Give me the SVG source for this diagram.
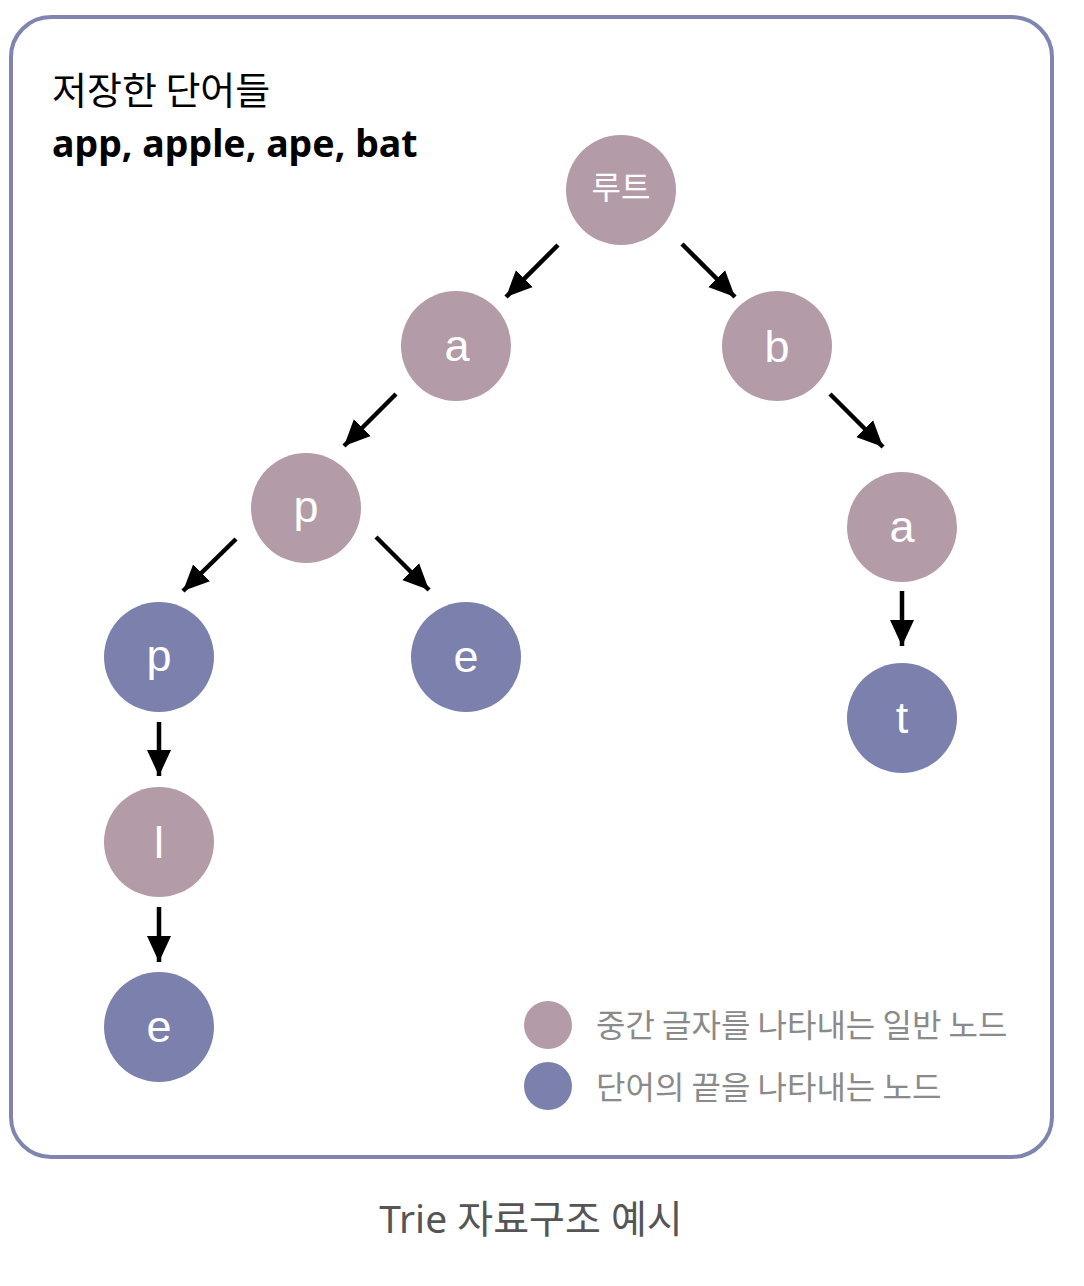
<svg xmlns="http://www.w3.org/2000/svg" width="1084" height="1286" viewBox="0 0 1084 1286">
<style>
.mid{fill:#b39ba8}
.end{fill:#7b80ad}
.lbl{font-family:"Liberation Sans","Noto Sans CJK KR",sans-serif;font-size:45px;fill:#fff;text-anchor:middle}
.edge{stroke:#000;stroke-width:4.5;fill:none;marker-end:url(#ah)}
.leg{font-family:"Noto Sans CJK KR",sans-serif;font-size:32px;fill:#8a8a8a}
</style>
<defs>
<marker id="ah" markerUnits="userSpaceOnUse" markerWidth="28" markerHeight="28" viewBox="0 0 28 28" refX="26" refY="14" orient="auto">
<path d="M0,2 L26,14 L0,26 Z" fill="#000"/>
</marker>
</defs>
<rect x="11" y="17" width="1041" height="1140" rx="40" fill="#fff" stroke="#8085b0" stroke-width="4"/>
<g id="title">
<text x="52" y="104" font-family="Noto Sans CJK KR,sans-serif" font-size="38" fill="#000">저장한 단어들</text>
<text x="52" y="157" font-family="Noto Sans,Noto Sans CJK KR,sans-serif" font-size="37.5" font-weight="bold" fill="#000">app, apple, ape, bat</text>
</g>
<g id="connectors">
<line class="edge" x1="558" y1="245" x2="506" y2="297"/>
<line class="edge" x1="682" y1="244" x2="735" y2="297"/>
<line class="edge" x1="396" y1="394" x2="344" y2="446"/>
<line class="edge" x1="830" y1="394" x2="883" y2="447"/>
<line class="edge" x1="236" y1="539" x2="183" y2="591"/>
<line class="edge" x1="376" y1="537" x2="429" y2="590"/>
<line class="edge" x1="159" y1="722" x2="159" y2="776"/>
<line class="edge" x1="159" y1="907" x2="159" y2="962"/>
<line class="edge" x1="902" y1="591" x2="902" y2="646"/>
</g>
<g id="n-root"><circle class="mid" cx="621" cy="190" r="55"/><text class="lbl" x="621" y="199" style="font-size:32px;font-family:'Noto Sans CJK KR',sans-serif">루트</text></g>
<g id="n-a"><circle class="mid" cx="456" cy="346" r="55"/><text class="lbl" x="457" y="361">a</text></g>
<g id="n-b"><circle class="mid" cx="777" cy="346" r="55"/><text class="lbl" x="777" y="362">b</text></g>
<g id="n-p"><circle class="mid" cx="306" cy="508" r="55"/><text class="lbl" x="306" y="522">p</text></g>
<g id="n-a2"><circle class="mid" cx="902" cy="527" r="55"/><text class="lbl" x="902" y="542">a</text></g>
<g id="n-p2"><circle class="end" cx="159" cy="657" r="55"/><text class="lbl" x="159" y="671">p</text></g>
<g id="n-e"><circle class="end" cx="466" cy="657" r="55"/><text class="lbl" x="466" y="672">e</text></g>
<g id="n-t"><circle class="end" cx="902" cy="718" r="55"/><text class="lbl" x="902" y="733">t</text></g>
<g id="n-l"><circle class="mid" cx="159" cy="842" r="55"/><text class="lbl" x="159" y="858">l</text></g>
<g id="n-e2"><circle class="end" cx="159" cy="1027" r="55"/><text class="lbl" x="159" y="1042">e</text></g>
<g id="legend">
<circle class="mid" cx="548" cy="1025" r="24"/>
<text class="leg" x="596" y="1037">중간 글자를 나타내는 일반 노드</text>
<circle class="end" cx="548" cy="1086" r="24"/>
<text class="leg" x="596" y="1099">단어의 끝을 나타내는 노드</text>
</g>
<text id="caption" x="531" y="1233" text-anchor="middle" font-family="Noto Sans,Noto Sans CJK KR,sans-serif" font-size="39" fill="#555">Trie 자료구조 예시</text>
</svg>
